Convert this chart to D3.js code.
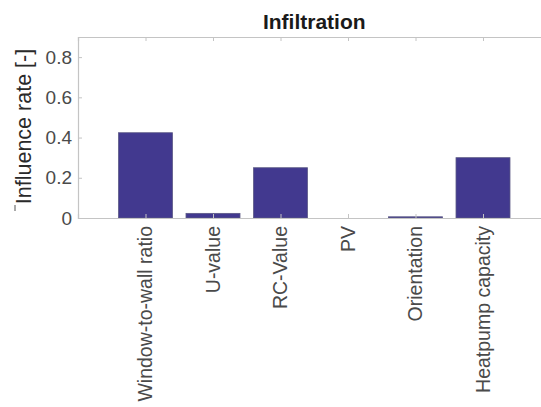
<!DOCTYPE html>
<html>
<head>
<meta charset="utf-8">
<script src="https://cdn.jsdelivr.net/npm/d3@7"></script>
<style>
  html, body { margin: 0; padding: 0; background: #fff; }
  svg { display: block; font-family: "Liberation Sans", Arial, Helvetica, sans-serif; }
</style>
</head>
<body>
<svg id="chart" width="541" height="407"></svg>
<script>
// Influence of each design parameter on the infiltration rate
const categories = ["Window-to-wall ratio", "U-value", "RC-Value", "PV", "Orientation", "Heatpump capacity"];
const influence = [0.424, 0.023, 0.25, 0.0, 0.006, 0.30];
const yTicks = [0, 0.2, 0.4, 0.6, 0.8];
const yTickLabels = ["0", "0.2", "0.4", "0.6", "0.8"];
const title = "Infiltration";
const yLabel = "Influence rate [-]";

const svg = d3.select("#chart");
const plot = { left: 78, right: 550.5, top: 37, bottom: 218 };

// categories sit at positions 1..6 on an axis running from 0 to 7
const x = d3.scaleLinear().domain([0, 7]).range([plot.left, plot.right]);
const y = d3.scaleLinear().domain([0, 0.9]).range([plot.bottom, plot.top]);
const barWidth = 0.8;

const axisColor = "#c4c4c4";
const tickTextColor = "#4a4a4a";

// bars
svg.append("g")
  .selectAll("rect")
  .data(influence)
  .join("rect")
  .attr("x", (d, i) => x(i + 1 - barWidth / 2))
  .attr("width", x(barWidth) - x(0))
  .attr("y", d => y(d))
  .attr("height", d => y(0) - y(d))
  .attr("fill", "#42398f")
  .attr("stroke", "#5d5a86")
  .attr("stroke-width", 0.8);

// axes: ticks point inward, labels drawn separately
const tickPos = categories.map((c, i) => i + 1);

const bottomAxis = d3.axisBottom(x).tickValues(tickPos).tickSize(-4).tickFormat(() => "");
const topAxis = d3.axisTop(x).tickValues(tickPos).tickSize(-4).tickFormat(() => "");
const leftAxis = d3.axisLeft(y).tickValues(yTicks).tickSize(-4).tickFormat(() => "");

function styleAxis(g) {
  g.select(".domain").attr("stroke", axisColor).attr("stroke-width", 1.2);
  g.selectAll(".tick line").attr("stroke", axisColor).attr("stroke-width", 1);
}

svg.append("g").attr("transform", `translate(0,${plot.bottom})`).call(bottomAxis).call(styleAxis);
svg.append("g").attr("transform", `translate(0,${plot.top})`).call(topAxis).call(styleAxis);
svg.append("g").attr("transform", `translate(${plot.left},0)`).call(leftAxis).call(styleAxis);

// y tick labels
svg.append("g")
  .selectAll("text")
  .data(yTicks)
  .join("text")
  .attr("x", plot.left - 6)
  .attr("y", d => y(d))
  .attr("dy", "0.35em")
  .attr("text-anchor", "end")
  .attr("font-size", 19)
  .attr("fill", tickTextColor)
  .text((d, i) => yTickLabels[i]);

// x tick labels, rotated
svg.append("g")
  .selectAll("text")
  .data(categories)
  .join("text")
  .attr("transform", (d, i) => `translate(${x(i + 1)},${plot.bottom + 8}) rotate(-90)`)
  .attr("dy", "0.35em")
  .attr("text-anchor", "end")
  .attr("font-size", 19.5)
  .attr("fill", tickTextColor)
  .text(d => d);

// y axis label
svg.append("text")
  .attr("transform", `translate(31,${(plot.top + plot.bottom) / 2 - 1}) rotate(-90)`)
  .attr("text-anchor", "middle")
  .attr("font-size", 21.5)
  .attr("fill", "#2a2a2a")
  .text(yLabel);

// small mark before the y label
svg.append("line")
  .attr("x1", 15).attr("x2", 15)
  .attr("y1", 205).attr("y2", 211)
  .attr("stroke", "#555").attr("stroke-width", 1);

// title
svg.append("text")
  .attr("x", (plot.left + plot.right) / 2)
  .attr("y", 29)
  .attr("text-anchor", "middle")
  .attr("font-size", 21)
  .attr("font-weight", "bold")
  .attr("fill", "#1a1a1a")
  .text(title);
</script>
</body>
</html>
